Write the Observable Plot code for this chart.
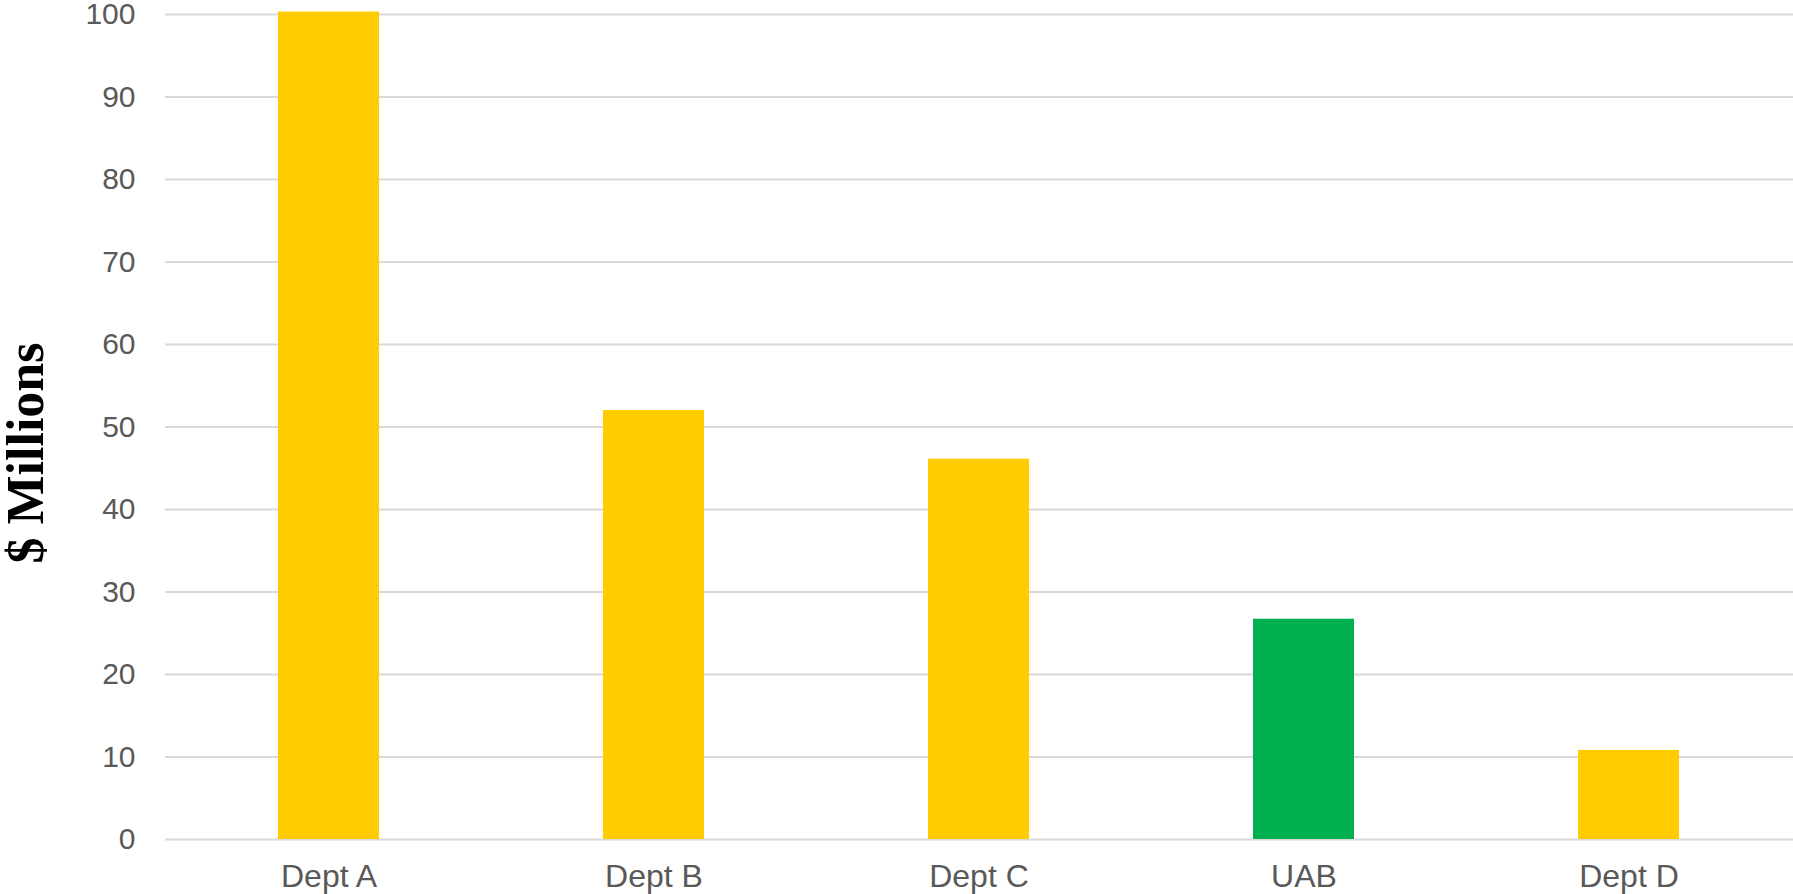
<!DOCTYPE html>
<html>
<head>
<meta charset="utf-8">
<script src="https://cdn.jsdelivr.net/npm/d3@7"></script>
<script src="https://cdn.jsdelivr.net/npm/@observablehq/plot@0.6"></script>
<style>
  html, body { margin: 0; padding: 0; background: #ffffff; }
  #chart svg { display: block; overflow: visible; }
</style>
</head>
<body>
<div id="chart"></div>
<script>
const categories = ["Dept A", "Dept B", "Dept C", "UAB", "Dept D"];
const values = [100.3, 52.0, 46.1, 26.7, 10.8];
const highlighted = "UAB";
const yTicks = [0, 10, 20, 30, 40, 50, 60, 70, 80, 90, 100];
const yTitle = "$ Millions";

const data = categories.map((name, i) => ({name, value: values[i]}));

const chart = Plot.plot({
  width: 1793,
  height: 894,
  marginLeft: 165,
  marginRight: 0,
  marginTop: 14,
  marginBottom: 55,
  style: {fontFamily: "'Liberation Sans', Arial, sans-serif", background: "#ffffff"},
  x: {domain: categories, paddingInner: 0.688, paddingOuter: 0.344, label: null},
  y: {domain: [0, 100], label: null},
  marks: [
    Plot.gridY(yTicks, {stroke: "#d9d9d9", strokeOpacity: 1, strokeWidth: 2}),
    Plot.barY(data, {
      x: "name",
      y: "value",
      fill: d => d.name === highlighted ? "#00b050" : "#ffcc00"
    }),
    Plot.axisX({tickSize: 0, tickPadding: 25, fontSize: 32, fill: "#595959", label: null}),
    Plot.axisY(yTicks, {tickSize: 0, tickPadding: 30, fontSize: 30, fill: "#595959", label: null}),
    Plot.text([yTitle], {
      text: d => d,
      frameAnchor: "left",
      textAnchor: "middle",
      lineAnchor: "middle",
      rotate: -90,
      dx: -139,
      dy: 26,
      fontSize: 52,
      fontWeight: "bold",
      fontFamily: "'Liberation Serif', 'Times New Roman', serif",
      fill: "#000000"
    })
  ]
});

document.getElementById("chart").appendChild(chart);
</script>
</body>
</html>
